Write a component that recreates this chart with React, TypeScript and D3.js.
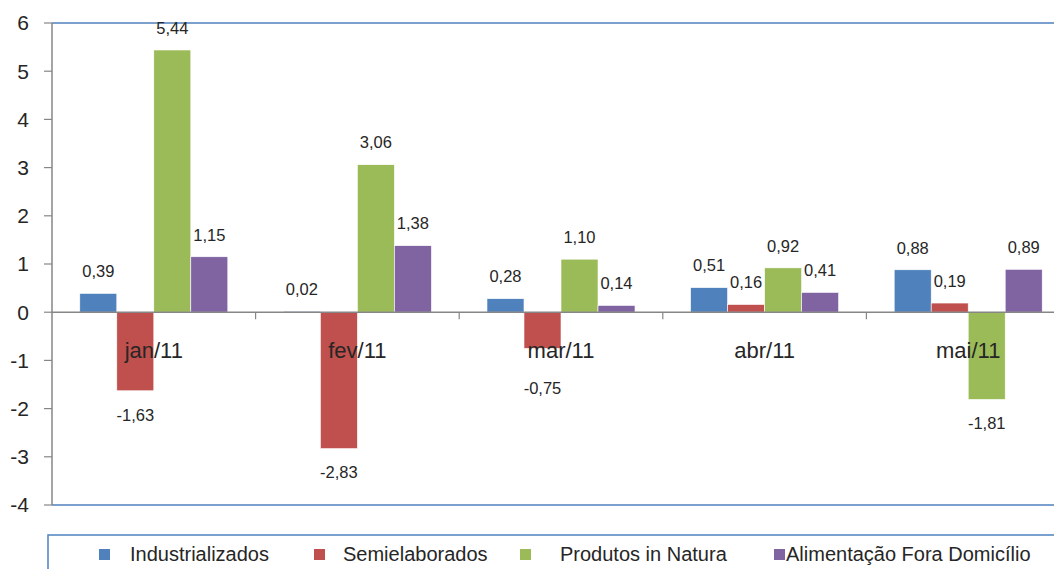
import React from 'react';
import * as d3 from 'd3';

const months = ['jan/11', 'fev/11', 'mar/11', 'abr/11', 'mai/11'];
const seriesNames = ['Industrializados', 'Semielaborados', 'Produtos in Natura', 'Alimentação Fora Domicílio'];
const industrializados = [0.39, 0.02, 0.28, 0.51, 0.88];
const semielaborados = [-1.63, -2.83, -0.75, 0.16, 0.19];
const produtosInNatura = [5.44, 3.06, 1.1, 0.92, -1.81];
const alimentacaoFora = [1.15, 1.38, 0.14, 0.41, 0.89];
const yTicks = [-4, -3, -2, -1, 0, 1, 2, 3, 4, 5, 6];

const colors = ['#4F81BD', '#C0504D', '#9BBB59', '#8064A2'];
const seriesValues = [industrializados, semielaborados, produtosInNatura, alimentacaoFora];

const W = 1054;
const H = 569;
const left = 52;
const top = 23;
const bottom = 505;
const font = '"Liberation Sans", Arial, sans-serif';
const catLabelY = 358;

const fmt = (v: number) => v.toFixed(2).replace('.', ',');

const App: React.FC = () => {
  const x = d3.scaleBand<string>()
    .domain(months)
    .range([left, left + 5 * 203.6])
    .paddingInner(0.273)
    .paddingOuter(0.1365);
  const xs = d3.scaleBand<string>().domain(seriesNames).range([0, x.bandwidth()]);
  const y = d3.scaleLinear().domain([-4, 6]).range([bottom, top]);
  const y0 = y(0);
  const step = x.step();

  // legend item x positions (marker, text)
  const legendX = [99, 314, 520, 774];
  const legendTextX = [130, 343, 560, 786];

  return (
    <svg width={W} height={H} style={{ position: 'fixed', left: 0, top: 0, background: '#fff' }}>
      {/* plot borders */}
      <line x1={left} x2={W} y1={top} y2={top} stroke="#4F81BD" strokeWidth={1.5} />
      <line x1={left} x2={W} y1={bottom} y2={bottom} stroke="#4F81BD" strokeWidth={1.5} />

      {/* y axis */}
      <line x1={left} x2={left} y1={top} y2={bottom} stroke="#868686" strokeWidth={1.5} />
      {yTicks.map(t => (
        <g key={t}>
          <line x1={left - 8} x2={left} y1={y(t)} y2={y(t)} stroke="#868686" strokeWidth={1.2} />
          <text x={29} y={y(t)} dy="0.35em" textAnchor="end" fontFamily={font} fontSize={21} fill="#262626">{t}</text>
        </g>
      ))}

      {/* bars */}
      {months.map((m, i) => (
        <g key={m}>
          {seriesNames.map((s, j) => {
            const v = seriesValues[j][i];
            const bx = (x(m) ?? 0) + (xs(s) ?? 0);
            return (
              <rect key={s} x={bx} y={Math.min(y(v), y0)} width={xs.bandwidth()}
                height={Math.abs(y(v) - y0)} fill={colors[j]} stroke="#fff" strokeWidth={0.6} />
            );
          })}
        </g>
      ))}

      {/* zero axis with category ticks */}
      <line x1={left} x2={W} y1={y0} y2={y0} stroke="#868686" strokeWidth={1.5} />
      {months.map((m, i) => (
        <line key={m} x1={left + step * (i + 1)} x2={left + step * (i + 1)} y1={y0} y2={y0 + 7}
          stroke="#868686" strokeWidth={1.2} />
      ))}

      {/* category labels */}
      {months.map(m => (
        <text key={m} x={(x(m) ?? 0) + x.bandwidth() / 2} y={catLabelY} textAnchor="middle"
          fontFamily={font} fontSize={22} fill="#262626">{m}</text>
      ))}

      {/* data labels */}
      {months.map((m, i) => seriesNames.map((s, j) => {
        const v = seriesValues[j][i];
        const cx = (x(m) ?? 0) + (xs(s) ?? 0) + xs.bandwidth() / 2;
        const cy = v >= 0 ? y(v) - 22 : Math.max(y(v) + 24, catLabelY + 30);
        return (
          <text key={m + s} x={cx} y={cy} dy="0.35em" textAnchor="middle" fontFamily={font}
            fontSize={16.5} fill="#262626">{fmt(v)}</text>
        );
      }))}

      {/* legend */}
      <rect x={48} y={535} width={1100} height={60} fill="#fff" stroke="#4F81BD" strokeWidth={1.5} />
      {seriesNames.map((s, j) => (
        <g key={s}>
          <rect x={legendX[j]} y={549} width={11} height={11} fill={colors[j]} />
          <text x={legendTextX[j]} y={554} dy="0.35em" fontFamily={font} fontSize={20} fill="#262626">{s}</text>
        </g>
      ))}
    </svg>
  );
};

export default App;
